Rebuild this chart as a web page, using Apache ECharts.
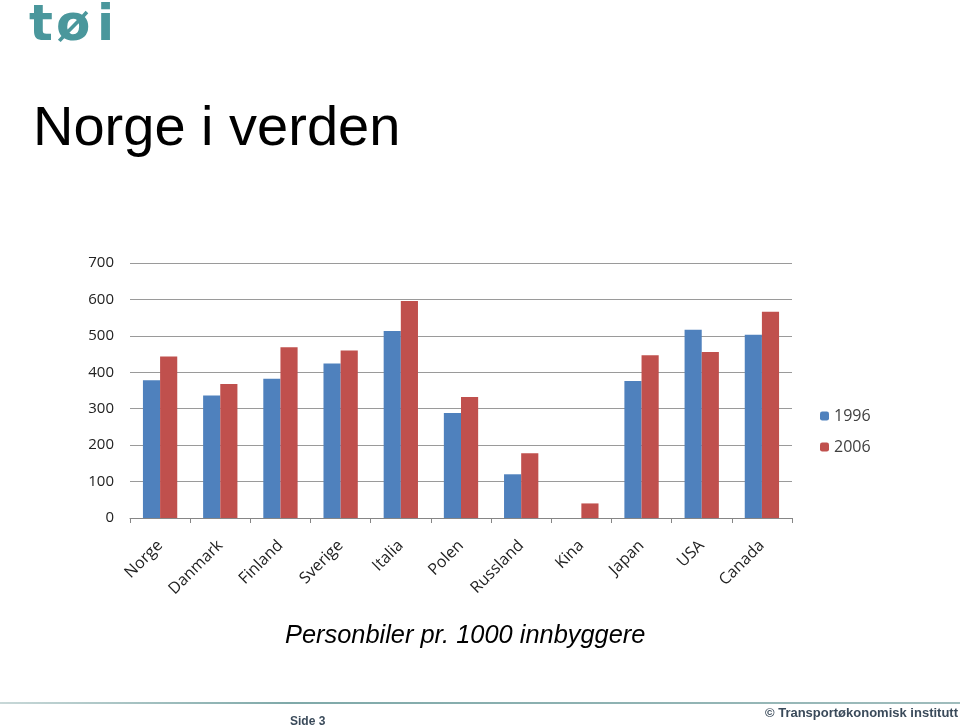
<!DOCTYPE html>
<html><head><meta charset="utf-8">
<script src="https://cdn.jsdelivr.net/npm/echarts@6/dist/echarts.min.js"></script>
<style>html,body{margin:0;padding:0;background:#fff}#c{width:960px;height:727px}</style>
</head><body><div id="c"></div>
<script>
const categories = ['Norge','Danmark','Finland','Sverige','Italia','Polen','Russland','Kina','Japan','USA','Canada'];
const values1996 = [378, 336, 382, 424, 513, 288, 120, 0, 376, 517, 503];
const values2006 = [443, 368, 469, 460, 596, 332, 178, 40, 447, 456, 566];
const yTicks = [0, 100, 200, 300, 400, 500, 600, 700];

const chart = echarts.init(document.getElementById('c'), null, {renderer: 'canvas'});
const lab = '"Open Sans", "Liberation Sans", sans-serif';
const logoFont = 'bold 50px "DejaVu Sans", sans-serif';
chart.setOption({
  animation: false,
  backgroundColor: '#fff',
  graphic: [
    {type: 'text', left: 29, top: 2, style: {text: 't', font: logoFont, fill: '#4a979c'}},
    {type: 'text', left: 56, top: 2, style: {text: 'ø', font: logoFont, fill: '#4a979c'}},
    {type: 'text', left: 97, top: 2, style: {text: 'i', font: logoFont, fill: '#4a979c'}},
    {type: 'text', left: 33, top: 102, style: {text: 'Norge i verden', font: '56px "Liberation Sans", Arial, sans-serif', fill: '#000'}},
    {type: 'text', left: 285, top: 623, style: {text: 'Personbiler pr. 1000 innbyggere', font: 'italic 25.4px "Liberation Sans", Arial, sans-serif', fill: '#000'}},
    {type: 'rect', shape: {x: 0, y: 702, width: 960, height: 2}, style: {fill: new echarts.graphic.LinearGradient(0, 0, 1, 0, [{offset: 0, color: '#c8d8d8'}, {offset: 0.3, color: '#7fa9a9'}, {offset: 1, color: '#9fbcbc'}])}},
    {type: 'text', left: 290, top: 716, style: {text: 'Side 3', font: 'bold 12px "Liberation Sans Narrow", "Liberation Sans", sans-serif', fill: '#3a4a5a'}},
    {type: 'text', right: 2, top: 707, style: {text: '© Transportøkonomisk institutt', font: 'bold 13px "Liberation Sans Narrow", "Liberation Sans", sans-serif', fill: '#3a4a5a'}}
  ],
  legend: {
    orient: 'vertical', left: 820, top: 408, padding: 0, itemWidth: 9, itemHeight: 9, itemGap: 15,
    textStyle: {fontFamily: lab, fontSize: 16, color: '#404040'},
    data: ['1996', '2006']
  },
  grid: {left: 130, right: 168, top: 263, bottom: 209, containLabel: false},
  xAxis: {
    type: 'category', data: categories,
    axisLine: {lineStyle: {color: '#868686'}},
    axisTick: {show: true, length: 5, lineStyle: {color: '#868686'}},
    axisLabel: {rotate: 45, fontFamily: lab, fontSize: 16, color: '#222', margin: 25}
  },
  yAxis: {
    type: 'value', min: 0, max: 700, interval: 100,
    axisLine: {show: false}, axisTick: {show: false},
    splitLine: {lineStyle: {color: '#9a9a9a'}},
    axisLabel: {fontFamily: lab, fontSize: 15, color: '#222', margin: 16,
      formatter: v => yTicks.includes(v) ? String(v) : ''}
  },
  series: [
    {name: '1996', type: 'bar', data: values1996, itemStyle: {color: '#4F81BD'}, barGap: '0%', barCategoryGap: '43%'},
    {name: '2006', type: 'bar', data: values2006, itemStyle: {color: '#C0504D'}, barGap: '0%', barCategoryGap: '43%'}
  ]
});
</script></body></html>
